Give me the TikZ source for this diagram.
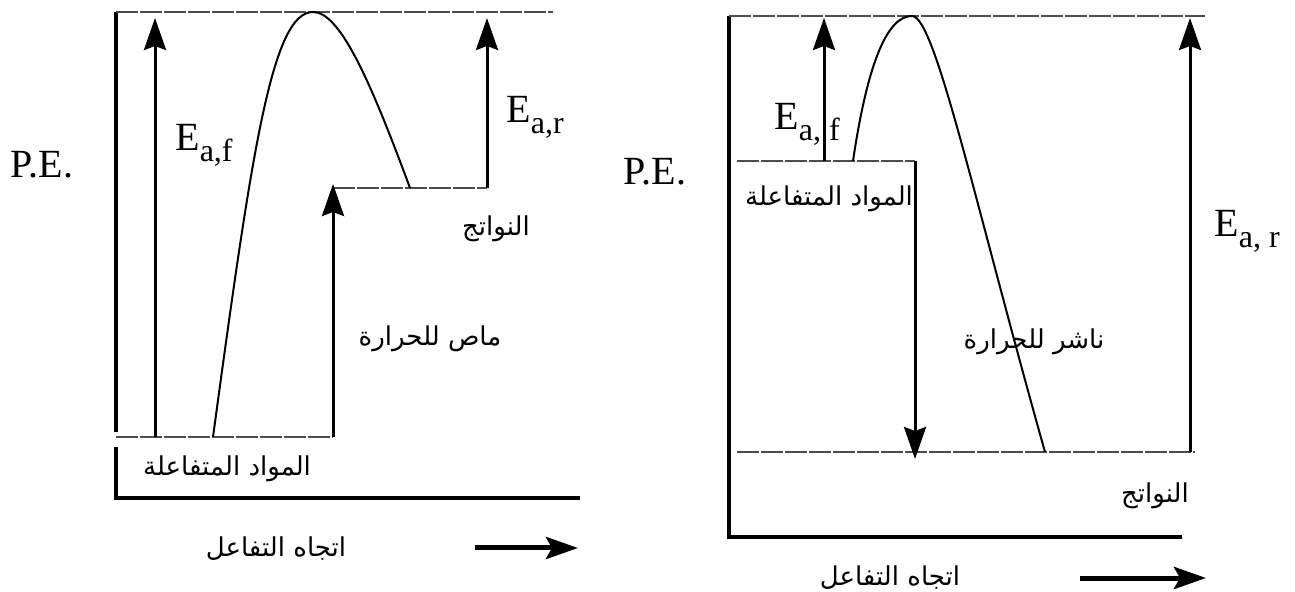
\documentclass[tikz,border=0pt]{standalone}
\usepackage{fontspec}
\setmainfont{Liberation Serif}
\newfontfamily\arabicfont[Script=Arabic]{DejaVu Sans}
\TeXXeTstate=1
\usetikzlibrary{arrows.meta}
\newcommand{\Ea}[1]{E\raisebox{-0.28em}{\fontsize{16}{16}\selectfont #1}}
\newcommand{\artext}[1]{{\arabicfont\beginR #1\endR}}
\tikzset{
  axis/.style={line width=2.2pt},
  level/.style={line width=1.4pt, black!70, dash pattern=on 11pt off 1pt},
  barrier/.style={line width=1pt},
  energy/.style={line width=1.5pt, -{Stealth[length=16pt,width=11pt,inset=2pt]}},
  dirarrow/.style={line width=2.5pt, -{Stealth[length=16pt,width=11pt,inset=3pt]}},
  lbl/.style={font=\fontsize{20}{20}\selectfont},
  arlbl/.style={font=\fontsize{13}{13}\selectfont}
}
\begin{document}
\begin{tikzpicture}[x=0.5pt, y=-0.5pt]
\useasboundingbox (0,0) rectangle (1295,592);
% Left diagram - endothermic
\coordinate (LT) at (116,12);
\coordinate (LO) at (116,498);
\coordinate (LX) at (580,498);
\draw[axis] (LT) -- (116,432);
\draw[axis] (116,447) -- (LO) -- (LX);
\draw[level] (LT) -- (553,12);
\draw[level] (116,437) -- (333,437);
\draw[level] (333,188) -- (487,188);
\draw[energy] (155,437) -- (155,18);
\draw[energy] (333,437) -- (333,184);
\draw[energy] (487,188) -- (487,18);
\draw[barrier] (213,437) .. controls (252,150) and (272,12) .. (313,12) .. controls (340,12) and (370,80) .. (410,188);
\node[lbl] (LPE) at (42,165) {P.E.};
\node[lbl] (LEaf) at (204,145) {\Ea{a,f}};
\node[lbl] (LEar) at (535,117) {\Ea{a,r}};
\node[arlbl] (Lprod) at (496,229) {\artext{النواتج}};
\node[arlbl] (Lendo) at (430,339) {\artext{ماص للحرارة}};
\node[arlbl] (Lreact) at (227,469) {\artext{المواد المتفاعلة}};
\node[arlbl] (Ldir) at (276,549) {\artext{اتجاه التفاعل}};
\draw[dirarrow] (475,548) -- (578,548);

% Right diagram - exothermic
\coordinate (RT) at (729,16);
\coordinate (RO) at (729,537);
\coordinate (RX) at (1182,537);
\draw[axis] (RT) -- (RO) -- (RX);
\draw[level] (RT) -- (1205,16);
\draw[level] (737,161) -- (915,161);
\draw[level] (737,452) -- (1195,452);
\draw[energy] (915,161) -- (915,459);
\draw[energy] (824,161) -- (824,18);
\draw[energy] (1190,452) -- (1190,18);
\draw[barrier] (853,161) .. controls (868,60) and (888,16) .. (912,16) .. controls (935,16) and (974,200) .. (1045,452);
\node[lbl] (RPE) at (655,172) {P.E.};
\node[lbl] (REaf) at (807,124) {\Ea{a, f}};
\node[lbl] (REar) at (1247,231) {\Ea{a, r}};
\node[arlbl] (Rreact) at (829,199) {\artext{المواد المتفاعلة}};
\node[arlbl] (Rexo) at (1034,342) {\artext{ناشر للحرارة}};
\node[arlbl] (Rprod) at (1155,496) {\artext{النواتج}};
\node[arlbl] (Rdir) at (890,578) {\artext{اتجاه التفاعل}};
\draw[dirarrow] (1080,578) -- (1206,578);
\end{tikzpicture}
\end{document}
